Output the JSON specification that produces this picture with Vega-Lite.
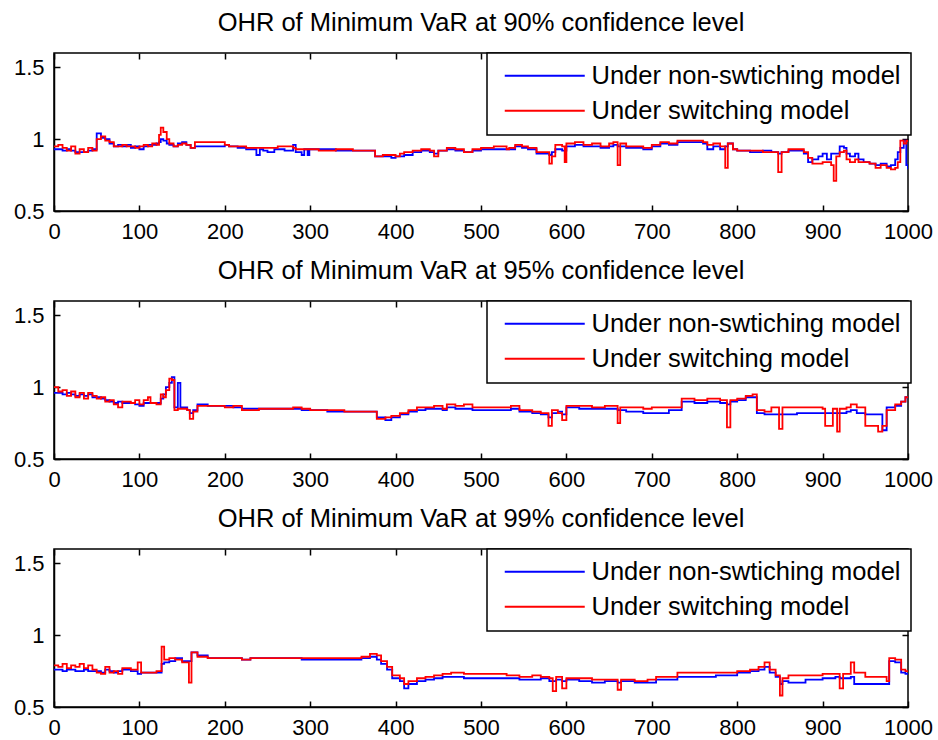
{
  "$schema": "https://vega.github.io/schema/vega-lite/v6.json",
  "background": "white",
  "padding": {"left": 12, "top": 10, "right": 0, "bottom": 0},
  "spacing": 90,
  "bounds": "flush",
  "resolve": {"legend": {"color": "independent"}},
  "config": {
    "font": "Liberation Sans",
    "view": {"stroke": "black", "strokeWidth": 1.5},
    "axis": {
      "grid": false,
      "domainColor": "black",
      "domainWidth": 1.5,
      "tickColor": "black",
      "tickWidth": 1.5,
      "tickSize": -6,
      "labelPadding": 16,
      "labelFlush": false,
      "labelOverlap": false,
      "labelColor": "black",
      "labelFont": "Liberation Sans",
      "labelFontSize": 22,
      "title": null
    },
    "title": {"font": "Liberation Sans", "fontSize": 25.5, "fontWeight": "normal", "color": "black", "offset": 16},
    "legend": {
      "orient": "none",
      "legendX": 433,
      "legendY": 0,
      "direction": "vertical",
      "fillColor": "white",
      "strokeColor": "black",
      "strokeWidth": 1.5,
      "padding": 10,
      "symbolType": "M-4,0H4",
      "symbolSize": 400,
      "symbolOffset": 35,
      "symbolStrokeWidth": 2,
      "labelFont": "Liberation Sans",
      "labelFontSize": 25.5,
      "labelColor": "black",
      "labelOffset": 34,
      "labelLimit": 400,
      "rowPadding": 8
    }
  },
  "datasets": {
    "p90": [
      {"t":0,"Under non-swtiching model":0.93,"Under switching model":0.95},
      {"t":5,"Under non-swtiching model":0.93,"Under switching model":0.96},
      {"t":10,"Under non-swtiching model":0.92,"Under switching model":0.94},
      {"t":15,"Under non-swtiching model":0.93,"Under switching model":0.92},
      {"t":20,"Under non-swtiching model":0.92,"Under switching model":0.95},
      {"t":25,"Under non-swtiching model":0.91,"Under switching model":0.90},
      {"t":30,"Under non-swtiching model":0.91,"Under switching model":0.93},
      {"t":35,"Under non-swtiching model":0.91,"Under switching model":0.91},
      {"t":40,"Under non-swtiching model":0.92,"Under switching model":0.94},
      {"t":45,"Under non-swtiching model":0.93,"Under switching model":0.92},
      {"t":50,"Under non-swtiching model":1.04,"Under switching model":1.00},
      {"t":55,"Under non-swtiching model":1.01,"Under switching model":1.02},
      {"t":60,"Under non-swtiching model":1.00,"Under switching model":0.99},
      {"t":65,"Under non-swtiching model":0.97,"Under switching model":0.98},
      {"t":70,"Under non-swtiching model":0.95,"Under switching model":0.95},
      {"t":75,"Under non-swtiching model":0.96,"Under switching model":0.95},
      {"t":80,"Under non-swtiching model":0.95,"Under switching model":0.96},
      {"t":85,"Under non-swtiching model":0.96,"Under switching model":0.95},
      {"t":90,"Under non-swtiching model":0.94,"Under switching model":0.95},
      {"t":95,"Under non-swtiching model":0.95,"Under switching model":0.94},
      {"t":100,"Under non-swtiching model":0.93,"Under switching model":0.95},
      {"t":105,"Under non-swtiching model":0.95,"Under switching model":0.96},
      {"t":110,"Under non-swtiching model":0.96,"Under switching model":0.95},
      {"t":115,"Under non-swtiching model":0.96,"Under switching model":0.97},
      {"t":120,"Under non-swtiching model":0.97,"Under switching model":0.96},
      {"t":123,"Under non-swtiching model":0.98,"Under switching model":1.03},
      {"t":125,"Under non-swtiching model":1.00,"Under switching model":1.08},
      {"t":128,"Under non-swtiching model":0.99,"Under switching model":1.05},
      {"t":132,"Under non-swtiching model":0.97,"Under switching model":1.00},
      {"t":135,"Under non-swtiching model":0.96,"Under switching model":0.97},
      {"t":140,"Under non-swtiching model":0.95,"Under switching model":0.95},
      {"t":145,"Under non-swtiching model":0.97,"Under switching model":0.96},
      {"t":150,"Under non-swtiching model":0.98,"Under switching model":0.97},
      {"t":155,"Under non-swtiching model":0.96,"Under switching model":0.96},
      {"t":160,"Under non-swtiching model":0.94,"Under switching model":0.94},
      {"t":165,"Under non-swtiching model":0.95,"Under switching model":0.98},
      {"t":200,"Under non-swtiching model":0.96,"Under switching model":0.96},
      {"t":205,"Under non-swtiching model":0.95,"Under switching model":0.95},
      {"t":215,"Under non-swtiching model":0.94,"Under switching model":0.95},
      {"t":225,"Under non-swtiching model":0.93,"Under switching model":0.94},
      {"t":235,"Under non-swtiching model":0.93,"Under switching model":0.94},
      {"t":237,"Under non-swtiching model":0.89,"Under switching model":0.94},
      {"t":241,"Under non-swtiching model":0.93,"Under switching model":0.94},
      {"t":245,"Under non-swtiching model":0.92,"Under switching model":0.94},
      {"t":250,"Under non-swtiching model":0.91,"Under switching model":0.94},
      {"t":258,"Under non-swtiching model":0.93,"Under switching model":0.94},
      {"t":262,"Under non-swtiching model":0.93,"Under switching model":0.95},
      {"t":270,"Under non-swtiching model":0.92,"Under switching model":0.95},
      {"t":280,"Under non-swtiching model":0.96,"Under switching model":0.94},
      {"t":283,"Under non-swtiching model":0.91,"Under switching model":0.93},
      {"t":290,"Under non-swtiching model":0.89,"Under switching model":0.93},
      {"t":293,"Under non-swtiching model":0.93,"Under switching model":0.93},
      {"t":297,"Under non-swtiching model":0.89,"Under switching model":0.93},
      {"t":299,"Under non-swtiching model":0.93,"Under switching model":0.93},
      {"t":310,"Under non-swtiching model":0.93,"Under switching model":0.92},
      {"t":330,"Under non-swtiching model":0.92,"Under switching model":0.93},
      {"t":350,"Under non-swtiching model":0.92,"Under switching model":0.92},
      {"t":365,"Under non-swtiching model":0.92,"Under switching model":0.92},
      {"t":376,"Under non-swtiching model":0.88,"Under switching model":0.88},
      {"t":385,"Under non-swtiching model":0.88,"Under switching model":0.89},
      {"t":395,"Under non-swtiching model":0.87,"Under switching model":0.89},
      {"t":400,"Under non-swtiching model":0.88,"Under switching model":0.88},
      {"t":405,"Under non-swtiching model":0.88,"Under switching model":0.90},
      {"t":410,"Under non-swtiching model":0.89,"Under switching model":0.91},
      {"t":420,"Under non-swtiching model":0.91,"Under switching model":0.92},
      {"t":430,"Under non-swtiching model":0.92,"Under switching model":0.93},
      {"t":440,"Under non-swtiching model":0.91,"Under switching model":0.92},
      {"t":445,"Under non-swtiching model":0.90,"Under switching model":0.88},
      {"t":450,"Under non-swtiching model":0.92,"Under switching model":0.92},
      {"t":460,"Under non-swtiching model":0.93,"Under switching model":0.94},
      {"t":470,"Under non-swtiching model":0.92,"Under switching model":0.93},
      {"t":480,"Under non-swtiching model":0.91,"Under switching model":0.91},
      {"t":490,"Under non-swtiching model":0.92,"Under switching model":0.93},
      {"t":500,"Under non-swtiching model":0.93,"Under switching model":0.94},
      {"t":515,"Under non-swtiching model":0.93,"Under switching model":0.95},
      {"t":530,"Under non-swtiching model":0.93,"Under switching model":0.93},
      {"t":533,"Under non-swtiching model":0.93,"Under switching model":0.94},
      {"t":540,"Under non-swtiching model":0.95,"Under switching model":0.96},
      {"t":548,"Under non-swtiching model":0.94,"Under switching model":0.95},
      {"t":555,"Under non-swtiching model":0.93,"Under switching model":0.94},
      {"t":565,"Under non-swtiching model":0.90,"Under switching model":0.91},
      {"t":575,"Under non-swtiching model":0.90,"Under switching model":0.91},
      {"t":580,"Under non-swtiching model":0.89,"Under switching model":0.83},
      {"t":583,"Under non-swtiching model":0.91,"Under switching model":0.88},
      {"t":587,"Under non-swtiching model":0.93,"Under switching model":0.96},
      {"t":595,"Under non-swtiching model":0.92,"Under switching model":0.95},
      {"t":598,"Under non-swtiching model":0.92,"Under switching model":0.84},
      {"t":600,"Under non-swtiching model":0.95,"Under switching model":0.97},
      {"t":610,"Under non-swtiching model":0.96,"Under switching model":0.98},
      {"t":620,"Under non-swtiching model":0.95,"Under switching model":0.96},
      {"t":630,"Under non-swtiching model":0.95,"Under switching model":0.97},
      {"t":640,"Under non-swtiching model":0.94,"Under switching model":0.95},
      {"t":650,"Under non-swtiching model":0.95,"Under switching model":0.97},
      {"t":655,"Under non-swtiching model":0.96,"Under switching model":0.98},
      {"t":660,"Under non-swtiching model":0.95,"Under switching model":0.82},
      {"t":663,"Under non-swtiching model":0.95,"Under switching model":0.97},
      {"t":670,"Under non-swtiching model":0.94,"Under switching model":0.95},
      {"t":690,"Under non-swtiching model":0.93,"Under switching model":0.94},
      {"t":700,"Under non-swtiching model":0.95,"Under switching model":0.96},
      {"t":710,"Under non-swtiching model":0.97,"Under switching model":0.98},
      {"t":720,"Under non-swtiching model":0.96,"Under switching model":0.97},
      {"t":730,"Under non-swtiching model":0.98,"Under switching model":0.99},
      {"t":760,"Under non-swtiching model":0.97,"Under switching model":0.98},
      {"t":765,"Under non-swtiching model":0.93,"Under switching model":0.96},
      {"t":772,"Under non-swtiching model":0.95,"Under switching model":0.97},
      {"t":780,"Under non-swtiching model":0.93,"Under switching model":0.95},
      {"t":786,"Under non-swtiching model":0.95,"Under switching model":0.80},
      {"t":789,"Under non-swtiching model":0.97,"Under switching model":0.97},
      {"t":795,"Under non-swtiching model":0.93,"Under switching model":0.93},
      {"t":800,"Under non-swtiching model":0.92,"Under switching model":0.92},
      {"t":815,"Under non-swtiching model":0.91,"Under switching model":0.92},
      {"t":830,"Under non-swtiching model":0.92,"Under switching model":0.91},
      {"t":840,"Under non-swtiching model":0.91,"Under switching model":0.91},
      {"t":848,"Under non-swtiching model":0.90,"Under switching model":0.77},
      {"t":852,"Under non-swtiching model":0.91,"Under switching model":0.91},
      {"t":860,"Under non-swtiching model":0.92,"Under switching model":0.93},
      {"t":870,"Under non-swtiching model":0.92,"Under switching model":0.93},
      {"t":878,"Under non-swtiching model":0.90,"Under switching model":0.91},
      {"t":883,"Under non-swtiching model":0.84,"Under switching model":0.87},
      {"t":888,"Under non-swtiching model":0.86,"Under switching model":0.83},
      {"t":895,"Under non-swtiching model":0.88,"Under switching model":0.83},
      {"t":900,"Under non-swtiching model":0.90,"Under switching model":0.84},
      {"t":905,"Under non-swtiching model":0.86,"Under switching model":0.84},
      {"t":910,"Under non-swtiching model":0.90,"Under switching model":0.82},
      {"t":913,"Under non-swtiching model":0.90,"Under switching model":0.71},
      {"t":916,"Under non-swtiching model":0.90,"Under switching model":0.88},
      {"t":920,"Under non-swtiching model":0.95,"Under switching model":0.91},
      {"t":925,"Under non-swtiching model":0.94,"Under switching model":0.92},
      {"t":928,"Under non-swtiching model":0.90,"Under switching model":0.86},
      {"t":932,"Under non-swtiching model":0.88,"Under switching model":0.84},
      {"t":938,"Under non-swtiching model":0.90,"Under switching model":0.86},
      {"t":942,"Under non-swtiching model":0.86,"Under switching model":0.84},
      {"t":948,"Under non-swtiching model":0.84,"Under switching model":0.84},
      {"t":955,"Under non-swtiching model":0.83,"Under switching model":0.83},
      {"t":962,"Under non-swtiching model":0.82,"Under switching model":0.80},
      {"t":968,"Under non-swtiching model":0.83,"Under switching model":0.82},
      {"t":975,"Under non-swtiching model":0.81,"Under switching model":0.80},
      {"t":980,"Under non-swtiching model":0.82,"Under switching model":0.79},
      {"t":985,"Under non-swtiching model":0.86,"Under switching model":0.80},
      {"t":988,"Under non-swtiching model":0.91,"Under switching model":0.84},
      {"t":991,"Under non-swtiching model":0.94,"Under switching model":0.99},
      {"t":995,"Under non-swtiching model":0.99,"Under switching model":0.97},
      {"t":998,"Under non-swtiching model":0.82,"Under switching model":0.99},
      {"t":1000,"Under non-swtiching model":0.79,"Under switching model":0.98}
    ],
    "p95": [
      {"t":0,"Under non-swtiching model":0.96,"Under switching model":1.00},
      {"t":5,"Under non-swtiching model":0.96,"Under switching model":0.97},
      {"t":10,"Under non-swtiching model":0.95,"Under switching model":0.98},
      {"t":15,"Under non-swtiching model":0.96,"Under switching model":0.94},
      {"t":20,"Under non-swtiching model":0.95,"Under switching model":0.97},
      {"t":25,"Under non-swtiching model":0.94,"Under switching model":0.93},
      {"t":30,"Under non-swtiching model":0.95,"Under switching model":0.96},
      {"t":35,"Under non-swtiching model":0.94,"Under switching model":0.92},
      {"t":40,"Under non-swtiching model":0.95,"Under switching model":0.96},
      {"t":45,"Under non-swtiching model":0.93,"Under switching model":0.94},
      {"t":50,"Under non-swtiching model":0.93,"Under switching model":0.92},
      {"t":55,"Under non-swtiching model":0.92,"Under switching model":0.93},
      {"t":60,"Under non-swtiching model":0.91,"Under switching model":0.90},
      {"t":65,"Under non-swtiching model":0.90,"Under switching model":0.91},
      {"t":70,"Under non-swtiching model":0.89,"Under switching model":0.88},
      {"t":75,"Under non-swtiching model":0.90,"Under switching model":0.86},
      {"t":80,"Under non-swtiching model":0.89,"Under switching model":0.90},
      {"t":90,"Under non-swtiching model":0.89,"Under switching model":0.89},
      {"t":95,"Under non-swtiching model":0.88,"Under switching model":0.91},
      {"t":100,"Under non-swtiching model":0.87,"Under switching model":0.88},
      {"t":105,"Under non-swtiching model":0.89,"Under switching model":0.91},
      {"t":110,"Under non-swtiching model":0.89,"Under switching model":0.93},
      {"t":113,"Under non-swtiching model":0.89,"Under switching model":0.89},
      {"t":120,"Under non-swtiching model":0.89,"Under switching model":0.88},
      {"t":125,"Under non-swtiching model":0.92,"Under switching model":0.95},
      {"t":128,"Under non-swtiching model":0.95,"Under switching model":0.93},
      {"t":131,"Under non-swtiching model":1.00,"Under switching model":0.98},
      {"t":135,"Under non-swtiching model":1.03,"Under switching model":1.06},
      {"t":138,"Under non-swtiching model":1.07,"Under switching model":1.05},
      {"t":141,"Under non-swtiching model":0.86,"Under switching model":0.84},
      {"t":145,"Under non-swtiching model":1.03,"Under switching model":0.85},
      {"t":148,"Under non-swtiching model":0.86,"Under switching model":0.85},
      {"t":152,"Under non-swtiching model":0.86,"Under switching model":0.85},
      {"t":156,"Under non-swtiching model":0.84,"Under switching model":0.84},
      {"t":159,"Under non-swtiching model":0.82,"Under switching model":0.78},
      {"t":163,"Under non-swtiching model":0.84,"Under switching model":0.83},
      {"t":168,"Under non-swtiching model":0.88,"Under switching model":0.87},
      {"t":180,"Under non-swtiching model":0.87,"Under switching model":0.87},
      {"t":190,"Under non-swtiching model":0.87,"Under switching model":0.87},
      {"t":200,"Under non-swtiching model":0.87,"Under switching model":0.86},
      {"t":210,"Under non-swtiching model":0.86,"Under switching model":0.87},
      {"t":220,"Under non-swtiching model":0.85,"Under switching model":0.84},
      {"t":240,"Under non-swtiching model":0.85,"Under switching model":0.85},
      {"t":260,"Under non-swtiching model":0.85,"Under switching model":0.85},
      {"t":280,"Under non-swtiching model":0.85,"Under switching model":0.86},
      {"t":290,"Under non-swtiching model":0.84,"Under switching model":0.85},
      {"t":300,"Under non-swtiching model":0.84,"Under switching model":0.84},
      {"t":320,"Under non-swtiching model":0.83,"Under switching model":0.84},
      {"t":340,"Under non-swtiching model":0.83,"Under switching model":0.83},
      {"t":360,"Under non-swtiching model":0.83,"Under switching model":0.83},
      {"t":378,"Under non-swtiching model":0.79,"Under switching model":0.78},
      {"t":388,"Under non-swtiching model":0.77,"Under switching model":0.79},
      {"t":395,"Under non-swtiching model":0.79,"Under switching model":0.80},
      {"t":405,"Under non-swtiching model":0.81,"Under switching model":0.82},
      {"t":415,"Under non-swtiching model":0.83,"Under switching model":0.84},
      {"t":425,"Under non-swtiching model":0.84,"Under switching model":0.86},
      {"t":435,"Under non-swtiching model":0.85,"Under switching model":0.86},
      {"t":445,"Under non-swtiching model":0.85,"Under switching model":0.87},
      {"t":455,"Under non-swtiching model":0.84,"Under switching model":0.85},
      {"t":460,"Under non-swtiching model":0.86,"Under switching model":0.88},
      {"t":470,"Under non-swtiching model":0.85,"Under switching model":0.87},
      {"t":480,"Under non-swtiching model":0.85,"Under switching model":0.88},
      {"t":490,"Under non-swtiching model":0.84,"Under switching model":0.86},
      {"t":500,"Under non-swtiching model":0.84,"Under switching model":0.86},
      {"t":520,"Under non-swtiching model":0.84,"Under switching model":0.86},
      {"t":535,"Under non-swtiching model":0.85,"Under switching model":0.87},
      {"t":545,"Under non-swtiching model":0.83,"Under switching model":0.84},
      {"t":560,"Under non-swtiching model":0.82,"Under switching model":0.83},
      {"t":570,"Under non-swtiching model":0.81,"Under switching model":0.82},
      {"t":579,"Under non-swtiching model":0.79,"Under switching model":0.73},
      {"t":583,"Under non-swtiching model":0.82,"Under switching model":0.84},
      {"t":590,"Under non-swtiching model":0.83,"Under switching model":0.82},
      {"t":595,"Under non-swtiching model":0.81,"Under switching model":0.77},
      {"t":600,"Under non-swtiching model":0.86,"Under switching model":0.87},
      {"t":615,"Under non-swtiching model":0.85,"Under switching model":0.87},
      {"t":630,"Under non-swtiching model":0.85,"Under switching model":0.86},
      {"t":645,"Under non-swtiching model":0.85,"Under switching model":0.87},
      {"t":660,"Under non-swtiching model":0.84,"Under switching model":0.75},
      {"t":663,"Under non-swtiching model":0.84,"Under switching model":0.86},
      {"t":670,"Under non-swtiching model":0.83,"Under switching model":0.86},
      {"t":690,"Under non-swtiching model":0.82,"Under switching model":0.85},
      {"t":700,"Under non-swtiching model":0.82,"Under switching model":0.86},
      {"t":720,"Under non-swtiching model":0.84,"Under switching model":0.86},
      {"t":735,"Under non-swtiching model":0.90,"Under switching model":0.92},
      {"t":750,"Under non-swtiching model":0.89,"Under switching model":0.91},
      {"t":765,"Under non-swtiching model":0.90,"Under switching model":0.92},
      {"t":780,"Under non-swtiching model":0.89,"Under switching model":0.91},
      {"t":788,"Under non-swtiching model":0.88,"Under switching model":0.72},
      {"t":792,"Under non-swtiching model":0.90,"Under switching model":0.91},
      {"t":800,"Under non-swtiching model":0.91,"Under switching model":0.92},
      {"t":810,"Under non-swtiching model":0.93,"Under switching model":0.94},
      {"t":818,"Under non-swtiching model":0.93,"Under switching model":0.95},
      {"t":823,"Under non-swtiching model":0.82,"Under switching model":0.84},
      {"t":832,"Under non-swtiching model":0.81,"Under switching model":0.83},
      {"t":840,"Under non-swtiching model":0.81,"Under switching model":0.86},
      {"t":849,"Under non-swtiching model":0.81,"Under switching model":0.71},
      {"t":853,"Under non-swtiching model":0.81,"Under switching model":0.86},
      {"t":870,"Under non-swtiching model":0.82,"Under switching model":0.86},
      {"t":890,"Under non-swtiching model":0.82,"Under switching model":0.86},
      {"t":900,"Under non-swtiching model":0.82,"Under switching model":0.85},
      {"t":903,"Under non-swtiching model":0.82,"Under switching model":0.73},
      {"t":912,"Under non-swtiching model":0.82,"Under switching model":0.85},
      {"t":917,"Under non-swtiching model":0.82,"Under switching model":0.69},
      {"t":920,"Under non-swtiching model":0.82,"Under switching model":0.85},
      {"t":928,"Under non-swtiching model":0.83,"Under switching model":0.86},
      {"t":933,"Under non-swtiching model":0.84,"Under switching model":0.88},
      {"t":940,"Under non-swtiching model":0.82,"Under switching model":0.86},
      {"t":950,"Under non-swtiching model":0.81,"Under switching model":0.73},
      {"t":965,"Under non-swtiching model":0.81,"Under switching model":0.69},
      {"t":970,"Under non-swtiching model":0.70,"Under switching model":0.73},
      {"t":975,"Under non-swtiching model":0.86,"Under switching model":0.84},
      {"t":985,"Under non-swtiching model":0.87,"Under switching model":0.88},
      {"t":992,"Under non-swtiching model":0.90,"Under switching model":0.90},
      {"t":997,"Under non-swtiching model":0.93,"Under switching model":0.93},
      {"t":1000,"Under non-swtiching model":0.93,"Under switching model":0.93}
    ],
    "p99": [
      {"t":0,"Under non-swtiching model":0.76,"Under switching model":0.79},
      {"t":5,"Under non-swtiching model":0.76,"Under switching model":0.78},
      {"t":10,"Under non-swtiching model":0.75,"Under switching model":0.80},
      {"t":15,"Under non-swtiching model":0.76,"Under switching model":0.77},
      {"t":20,"Under non-swtiching model":0.76,"Under switching model":0.79},
      {"t":25,"Under non-swtiching model":0.75,"Under switching model":0.78},
      {"t":30,"Under non-swtiching model":0.75,"Under switching model":0.80},
      {"t":35,"Under non-swtiching model":0.76,"Under switching model":0.77},
      {"t":40,"Under non-swtiching model":0.75,"Under switching model":0.79},
      {"t":45,"Under non-swtiching model":0.75,"Under switching model":0.76},
      {"t":50,"Under non-swtiching model":0.75,"Under switching model":0.74},
      {"t":55,"Under non-swtiching model":0.74,"Under switching model":0.73},
      {"t":60,"Under non-swtiching model":0.76,"Under switching model":0.78},
      {"t":65,"Under non-swtiching model":0.75,"Under switching model":0.74},
      {"t":70,"Under non-swtiching model":0.74,"Under switching model":0.75},
      {"t":75,"Under non-swtiching model":0.75,"Under switching model":0.73},
      {"t":80,"Under non-swtiching model":0.76,"Under switching model":0.77},
      {"t":90,"Under non-swtiching model":0.75,"Under switching model":0.76},
      {"t":98,"Under non-swtiching model":0.73,"Under switching model":0.81},
      {"t":102,"Under non-swtiching model":0.74,"Under switching model":0.74},
      {"t":110,"Under non-swtiching model":0.74,"Under switching model":0.74},
      {"t":120,"Under non-swtiching model":0.74,"Under switching model":0.75},
      {"t":126,"Under non-swtiching model":0.80,"Under switching model":0.92},
      {"t":129,"Under non-swtiching model":0.81,"Under switching model":0.83},
      {"t":135,"Under non-swtiching model":0.82,"Under switching model":0.84},
      {"t":142,"Under non-swtiching model":0.84,"Under switching model":0.83},
      {"t":150,"Under non-swtiching model":0.82,"Under switching model":0.81},
      {"t":158,"Under non-swtiching model":0.82,"Under switching model":0.67},
      {"t":161,"Under non-swtiching model":0.88,"Under switching model":0.88},
      {"t":168,"Under non-swtiching model":0.86,"Under switching model":0.85},
      {"t":180,"Under non-swtiching model":0.84,"Under switching model":0.84},
      {"t":200,"Under non-swtiching model":0.84,"Under switching model":0.84},
      {"t":220,"Under non-swtiching model":0.83,"Under switching model":0.83},
      {"t":230,"Under non-swtiching model":0.84,"Under switching model":0.84},
      {"t":290,"Under non-swtiching model":0.83,"Under switching model":0.84},
      {"t":340,"Under non-swtiching model":0.83,"Under switching model":0.84},
      {"t":360,"Under non-swtiching model":0.84,"Under switching model":0.85},
      {"t":370,"Under non-swtiching model":0.85,"Under switching model":0.87},
      {"t":378,"Under non-swtiching model":0.83,"Under switching model":0.86},
      {"t":383,"Under non-swtiching model":0.80,"Under switching model":0.82},
      {"t":390,"Under non-swtiching model":0.76,"Under switching model":0.78},
      {"t":396,"Under non-swtiching model":0.70,"Under switching model":0.72},
      {"t":405,"Under non-swtiching model":0.68,"Under switching model":0.70},
      {"t":410,"Under non-swtiching model":0.63,"Under switching model":0.66},
      {"t":415,"Under non-swtiching model":0.66,"Under switching model":0.68},
      {"t":425,"Under non-swtiching model":0.68,"Under switching model":0.70},
      {"t":435,"Under non-swtiching model":0.69,"Under switching model":0.71},
      {"t":445,"Under non-swtiching model":0.70,"Under switching model":0.72},
      {"t":455,"Under non-swtiching model":0.71,"Under switching model":0.73},
      {"t":465,"Under non-swtiching model":0.71,"Under switching model":0.74},
      {"t":480,"Under non-swtiching model":0.70,"Under switching model":0.73},
      {"t":500,"Under non-swtiching model":0.70,"Under switching model":0.73},
      {"t":530,"Under non-swtiching model":0.70,"Under switching model":0.72},
      {"t":545,"Under non-swtiching model":0.69,"Under switching model":0.71},
      {"t":560,"Under non-swtiching model":0.69,"Under switching model":0.72},
      {"t":570,"Under non-swtiching model":0.70,"Under switching model":0.71},
      {"t":580,"Under non-swtiching model":0.68,"Under switching model":0.70},
      {"t":584,"Under non-swtiching model":0.68,"Under switching model":0.61},
      {"t":588,"Under non-swtiching model":0.69,"Under switching model":0.71},
      {"t":595,"Under non-swtiching model":0.68,"Under switching model":0.63},
      {"t":600,"Under non-swtiching model":0.69,"Under switching model":0.70},
      {"t":615,"Under non-swtiching model":0.68,"Under switching model":0.70},
      {"t":630,"Under non-swtiching model":0.67,"Under switching model":0.69},
      {"t":645,"Under non-swtiching model":0.68,"Under switching model":0.69},
      {"t":660,"Under non-swtiching model":0.67,"Under switching model":0.62},
      {"t":664,"Under non-swtiching model":0.68,"Under switching model":0.69},
      {"t":680,"Under non-swtiching model":0.67,"Under switching model":0.68},
      {"t":695,"Under non-swtiching model":0.67,"Under switching model":0.69},
      {"t":705,"Under non-swtiching model":0.69,"Under switching model":0.71},
      {"t":730,"Under non-swtiching model":0.71,"Under switching model":0.74},
      {"t":760,"Under non-swtiching model":0.71,"Under switching model":0.74},
      {"t":775,"Under non-swtiching model":0.72,"Under switching model":0.74},
      {"t":790,"Under non-swtiching model":0.72,"Under switching model":0.74},
      {"t":800,"Under non-swtiching model":0.74,"Under switching model":0.75},
      {"t":815,"Under non-swtiching model":0.75,"Under switching model":0.76},
      {"t":825,"Under non-swtiching model":0.76,"Under switching model":0.78},
      {"t":832,"Under non-swtiching model":0.78,"Under switching model":0.81},
      {"t":838,"Under non-swtiching model":0.74,"Under switching model":0.76},
      {"t":845,"Under non-swtiching model":0.71,"Under switching model":0.72},
      {"t":850,"Under non-swtiching model":0.66,"Under switching model":0.58},
      {"t":853,"Under non-swtiching model":0.68,"Under switching model":0.70},
      {"t":860,"Under non-swtiching model":0.67,"Under switching model":0.72},
      {"t":880,"Under non-swtiching model":0.69,"Under switching model":0.72},
      {"t":900,"Under non-swtiching model":0.70,"Under switching model":0.73},
      {"t":915,"Under non-swtiching model":0.71,"Under switching model":0.73},
      {"t":920,"Under non-swtiching model":0.70,"Under switching model":0.63},
      {"t":924,"Under non-swtiching model":0.70,"Under switching model":0.73},
      {"t":933,"Under non-swtiching model":0.71,"Under switching model":0.81},
      {"t":937,"Under non-swtiching model":0.66,"Under switching model":0.74},
      {"t":950,"Under non-swtiching model":0.66,"Under switching model":0.71},
      {"t":975,"Under non-swtiching model":0.66,"Under switching model":0.68},
      {"t":978,"Under non-swtiching model":0.82,"Under switching model":0.84},
      {"t":985,"Under non-swtiching model":0.81,"Under switching model":0.83},
      {"t":992,"Under non-swtiching model":0.74,"Under switching model":0.76},
      {"t":997,"Under non-swtiching model":0.73,"Under switching model":0.75},
      {"t":1000,"Under non-swtiching model":0.73,"Under switching model":0.75}
    ]
  },
  "vconcat": [
    {
      "title": "OHR of Minimum VaR at 90% confidence level",
      "width": 854,
      "height": 158,
      "data": {"name": "p90"},
      "transform": [{"fold": ["Under non-swtiching model", "Under switching model"], "as": ["model", "ohr"]}],
      "resolve": {"axis": {"x": "independent", "y": "independent"}},
      "layer": [
        {
          "mark": {"type": "line", "interpolate": "step-after", "strokeWidth": 1.8, "clip": true},
          "encoding": {
            "x": {"field": "t", "type": "quantitative", "scale": {"domain": [0, 1000], "nice": false}, "axis": {"orient": "bottom", "values": [0,100,200,300,400,500,600,700,800,900,1000], "format": "d"}},
            "y": {"field": "ohr", "type": "quantitative", "scale": {"domain": [0.5, 1.6], "nice": false, "zero": false}, "axis": {"orient": "left", "values": [0.5, 1, 1.5], "format": "~g"}},
            "color": {"field": "model", "type": "nominal", "scale": {"domain": ["Under non-swtiching model", "Under switching model"], "range": ["#0000ff", "#ff0000"]}, "legend": {"title": null}}
          }
        },
        {
          "mark": {"type": "line", "strokeOpacity": 0},
          "encoding": {
            "x": {"field": "t", "type": "quantitative", "scale": {"domain": [0, 1000], "nice": false}, "axis": {"orient": "top", "labels": false, "domain": false, "values": [0,100,200,300,400,500,600,700,800,900,1000]}},
            "y": {"field": "ohr", "type": "quantitative", "scale": {"domain": [0.5, 1.6], "nice": false, "zero": false}, "axis": {"orient": "right", "labels": false, "domain": false, "values": [0.5, 1, 1.5]}}
          }
        }
      ]
    },
    {
      "title": "OHR of Minimum VaR at 95% confidence level",
      "width": 854,
      "height": 158,
      "data": {"name": "p95"},
      "transform": [{"fold": ["Under non-swtiching model", "Under switching model"], "as": ["model", "ohr"]}],
      "resolve": {"axis": {"x": "independent", "y": "independent"}},
      "layer": [
        {
          "mark": {"type": "line", "interpolate": "step-after", "strokeWidth": 1.8, "clip": true},
          "encoding": {
            "x": {"field": "t", "type": "quantitative", "scale": {"domain": [0, 1000], "nice": false}, "axis": {"orient": "bottom", "values": [0,100,200,300,400,500,600,700,800,900,1000], "format": "d"}},
            "y": {"field": "ohr", "type": "quantitative", "scale": {"domain": [0.5, 1.6], "nice": false, "zero": false}, "axis": {"orient": "left", "values": [0.5, 1, 1.5], "format": "~g"}},
            "color": {"field": "model", "type": "nominal", "scale": {"domain": ["Under non-swtiching model", "Under switching model"], "range": ["#0000ff", "#ff0000"]}, "legend": {"title": null}}
          }
        },
        {
          "mark": {"type": "line", "strokeOpacity": 0},
          "encoding": {
            "x": {"field": "t", "type": "quantitative", "scale": {"domain": [0, 1000], "nice": false}, "axis": {"orient": "top", "labels": false, "domain": false, "values": [0,100,200,300,400,500,600,700,800,900,1000]}},
            "y": {"field": "ohr", "type": "quantitative", "scale": {"domain": [0.5, 1.6], "nice": false, "zero": false}, "axis": {"orient": "right", "labels": false, "domain": false, "values": [0.5, 1, 1.5]}}
          }
        }
      ]
    },
    {
      "title": "OHR of Minimum VaR at 99% confidence level",
      "width": 854,
      "height": 158,
      "data": {"name": "p99"},
      "transform": [{"fold": ["Under non-swtiching model", "Under switching model"], "as": ["model", "ohr"]}],
      "resolve": {"axis": {"x": "independent", "y": "independent"}},
      "layer": [
        {
          "mark": {"type": "line", "interpolate": "step-after", "strokeWidth": 1.8, "clip": true},
          "encoding": {
            "x": {"field": "t", "type": "quantitative", "scale": {"domain": [0, 1000], "nice": false}, "axis": {"orient": "bottom", "values": [0,100,200,300,400,500,600,700,800,900,1000], "format": "d"}},
            "y": {"field": "ohr", "type": "quantitative", "scale": {"domain": [0.5, 1.6], "nice": false, "zero": false}, "axis": {"orient": "left", "values": [0.5, 1, 1.5], "format": "~g"}},
            "color": {"field": "model", "type": "nominal", "scale": {"domain": ["Under non-swtiching model", "Under switching model"], "range": ["#0000ff", "#ff0000"]}, "legend": {"title": null}}
          }
        },
        {
          "mark": {"type": "line", "strokeOpacity": 0},
          "encoding": {
            "x": {"field": "t", "type": "quantitative", "scale": {"domain": [0, 1000], "nice": false}, "axis": {"orient": "top", "labels": false, "domain": false, "values": [0,100,200,300,400,500,600,700,800,900,1000]}},
            "y": {"field": "ohr", "type": "quantitative", "scale": {"domain": [0.5, 1.6], "nice": false, "zero": false}, "axis": {"orient": "right", "labels": false, "domain": false, "values": [0.5, 1, 1.5]}}
          }
        }
      ]
    }
  ]
}
